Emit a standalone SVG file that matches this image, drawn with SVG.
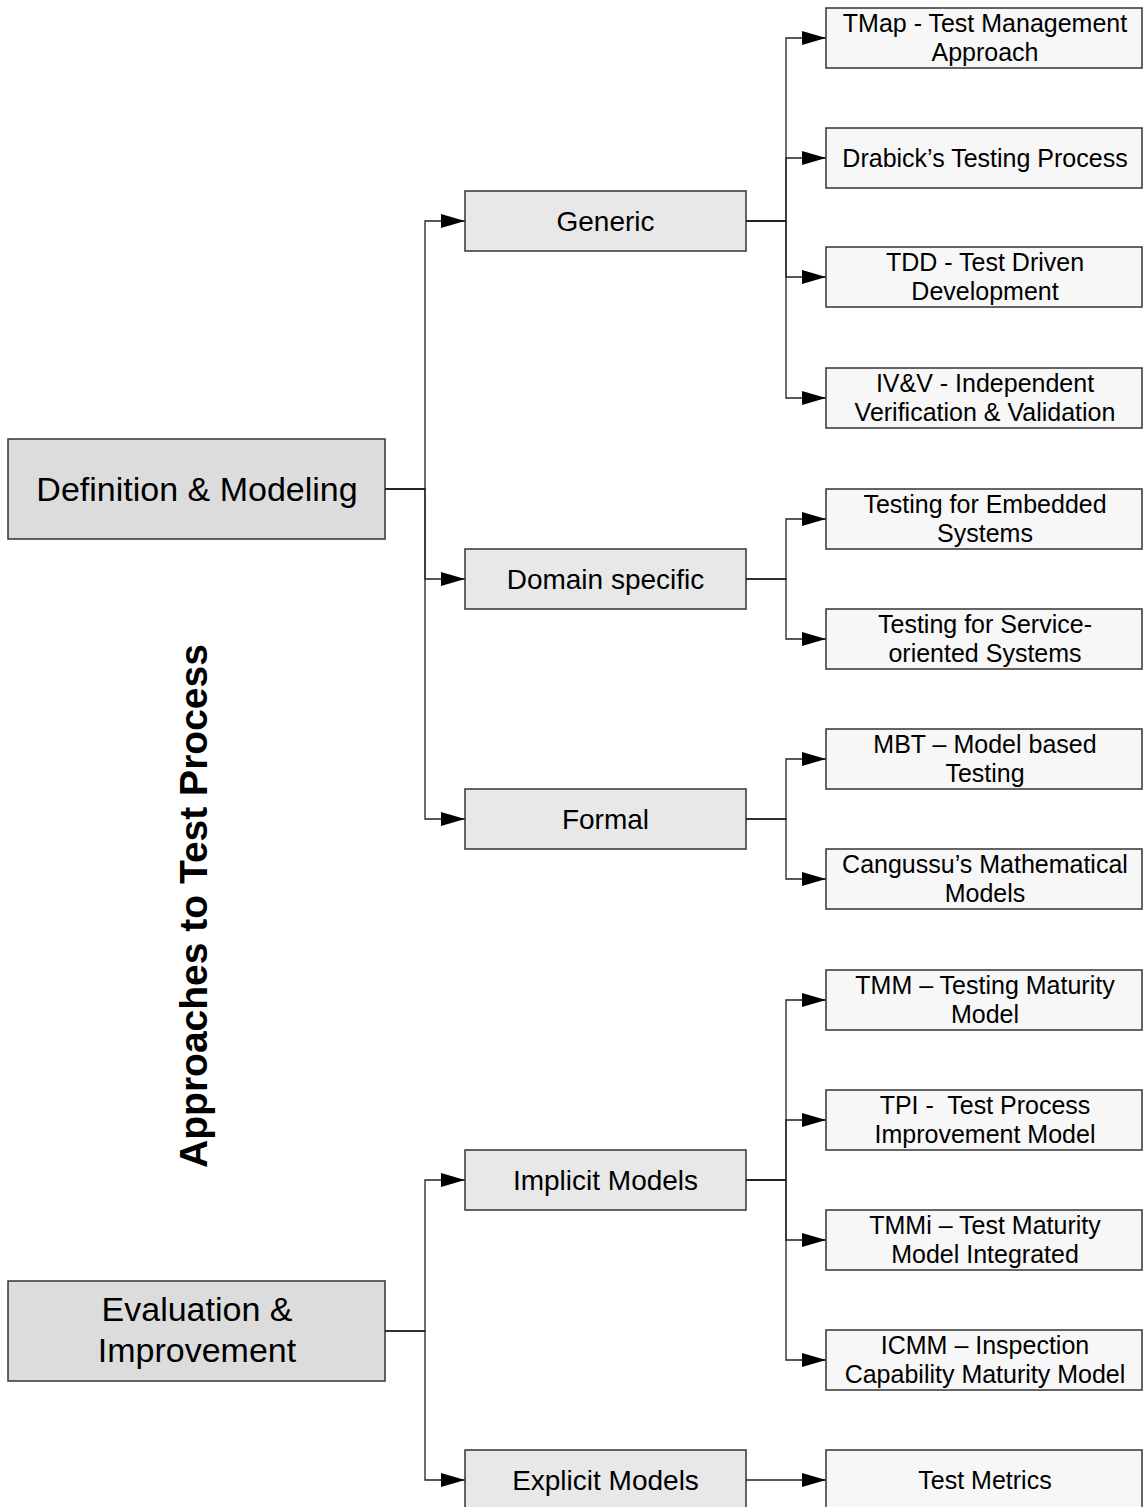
<svg xmlns="http://www.w3.org/2000/svg" width="1143" height="1507" viewBox="0 0 1143 1507">
  <style>
    .box { stroke: #333333; stroke-width: 1.5; }
    .root { fill: #dcdcdc; }
    .mid { fill: #e8e8e8; }
    .leaf { fill: #f7f7f7; }
    text { font-family: "Liberation Sans", Arial, sans-serif; fill: #000000; text-anchor: middle; }
    .t-root { font-size: 34px; }
    .t-mid { font-size: 28px; }
    .t-leaf { font-size: 25px; }
    .title { font-size: 39px; font-weight: bold; }
    .conn { fill: none; stroke: #222222; stroke-width: 1.3; marker-end: url(#arrow); }
  </style>
  <defs>
    <marker id="arrow" markerUnits="userSpaceOnUse" markerWidth="25" markerHeight="15" refX="24" refY="7" orient="auto">
      <path d="M0,0 L24,7 L0,14 z" fill="#000000"/>
    </marker>
  </defs>
  <rect width="1143" height="1507" fill="#ffffff"/>

  <!-- vertical heading -->
  <text class="title" transform="translate(207,906) rotate(-90)">Approaches to Test Process</text>

  <!-- connectors -->
  <g id="connectors">
    <path class="conn" d="M385,489 H425 V221 H465"/>
    <path class="conn" d="M385,489 H425 V579 H465"/>
    <path class="conn" d="M385,489 H425 V819 H465"/>
    <path class="conn" d="M385,1331 H425 V1180 H465"/>
    <path class="conn" d="M385,1331 H425 V1480 H465"/>

    <path class="conn" d="M746,221 H786 V38 H826"/>
    <path class="conn" d="M746,221 H786 V158 H826"/>
    <path class="conn" d="M746,221 H786 V277 H826"/>
    <path class="conn" d="M746,221 H786 V398 H826"/>

    <path class="conn" d="M746,579 H786 V519 H826"/>
    <path class="conn" d="M746,579 H786 V639 H826"/>

    <path class="conn" d="M746,819 H786 V759 H826"/>
    <path class="conn" d="M746,819 H786 V879 H826"/>

    <path class="conn" d="M746,1180 H786 V1000 H826"/>
    <path class="conn" d="M746,1180 H786 V1120 H826"/>
    <path class="conn" d="M746,1180 H786 V1240 H826"/>
    <path class="conn" d="M746,1180 H786 V1360 H826"/>

    <path class="conn" d="M746,1480 H826"/>
  </g>

  <!-- top-level categories -->
  <g id="definition-modeling">
    <rect class="box root" x="8" y="439" width="377" height="100"/>
    <text class="t-root" x="197" y="501">Definition &amp; Modeling</text>
  </g>
  <g id="evaluation-improvement">
    <rect class="box root" x="8" y="1281" width="377" height="100"/>
    <text class="t-root" x="197" y="1321">Evaluation &amp;</text>
    <text class="t-root" x="197" y="1362">Improvement</text>
  </g>

  <!-- second level -->
  <g id="generic">
    <rect class="box mid" x="465" y="191" width="281" height="60"/>
    <text class="t-mid" x="605.5" y="231">Generic</text>
  </g>
  <g id="domain-specific">
    <rect class="box mid" x="465" y="549" width="281" height="60"/>
    <text class="t-mid" x="605.5" y="589">Domain specific</text>
  </g>
  <g id="formal">
    <rect class="box mid" x="465" y="789" width="281" height="60"/>
    <text class="t-mid" x="605.5" y="829">Formal</text>
  </g>
  <g id="implicit-models">
    <rect class="box mid" x="465" y="1150" width="281" height="60"/>
    <text class="t-mid" x="605.5" y="1190">Implicit Models</text>
  </g>
  <g id="explicit-models">
    <rect class="box mid" x="465" y="1450" width="281" height="60"/>
    <text class="t-mid" x="605.5" y="1490">Explicit Models</text>
  </g>

  <!-- leaves -->
  <g id="tmap">
    <rect class="box leaf" x="826" y="8" width="316" height="60"/>
    <text class="t-leaf" x="985" y="32">TMap - Test Management</text>
    <text class="t-leaf" x="985" y="61">Approach</text>
  </g>
  <g id="drabick">
    <rect class="box leaf" x="826" y="128" width="316" height="60"/>
    <text class="t-leaf" x="985" y="167">Drabick’s Testing Process</text>
  </g>
  <g id="tdd">
    <rect class="box leaf" x="826" y="247" width="316" height="60"/>
    <text class="t-leaf" x="985" y="271">TDD - Test Driven</text>
    <text class="t-leaf" x="985" y="300">Development</text>
  </g>
  <g id="ivv">
    <rect class="box leaf" x="826" y="368" width="316" height="60"/>
    <text class="t-leaf" x="985" y="392">IV&amp;V - Independent</text>
    <text class="t-leaf" x="985" y="421">Verification &amp; Validation</text>
  </g>
  <g id="embedded">
    <rect class="box leaf" x="826" y="489" width="316" height="60"/>
    <text class="t-leaf" x="985" y="513">Testing for Embedded</text>
    <text class="t-leaf" x="985" y="542">Systems</text>
  </g>
  <g id="service-oriented">
    <rect class="box leaf" x="826" y="609" width="316" height="60"/>
    <text class="t-leaf" x="985" y="633">Testing for Service-</text>
    <text class="t-leaf" x="985" y="662">oriented Systems</text>
  </g>
  <g id="mbt">
    <rect class="box leaf" x="826" y="729" width="316" height="60"/>
    <text class="t-leaf" x="985" y="753">MBT – Model based</text>
    <text class="t-leaf" x="985" y="782">Testing</text>
  </g>
  <g id="cangussu">
    <rect class="box leaf" x="826" y="849" width="316" height="60"/>
    <text class="t-leaf" x="985" y="873">Cangussu’s Mathematical</text>
    <text class="t-leaf" x="985" y="902">Models</text>
  </g>
  <g id="tmm">
    <rect class="box leaf" x="826" y="970" width="316" height="60"/>
    <text class="t-leaf" x="985" y="994">TMM – Testing Maturity</text>
    <text class="t-leaf" x="985" y="1023">Model</text>
  </g>
  <g id="tpi">
    <rect class="box leaf" x="826" y="1090" width="316" height="60"/>
    <text class="t-leaf" x="985" y="1114" xml:space="preserve">TPI -  Test Process</text>
    <text class="t-leaf" x="985" y="1143">Improvement Model</text>
  </g>
  <g id="tmmi">
    <rect class="box leaf" x="826" y="1210" width="316" height="60"/>
    <text class="t-leaf" x="985" y="1234">TMMi – Test Maturity</text>
    <text class="t-leaf" x="985" y="1263">Model Integrated</text>
  </g>
  <g id="icmm">
    <rect class="box leaf" x="826" y="1330" width="316" height="60"/>
    <text class="t-leaf" x="985" y="1354">ICMM – Inspection</text>
    <text class="t-leaf" x="985" y="1383">Capability Maturity Model</text>
  </g>
  <g id="test-metrics">
    <rect class="box leaf" x="826" y="1450" width="316" height="60"/>
    <text class="t-leaf" x="985" y="1489">Test Metrics</text>
  </g>
</svg>
